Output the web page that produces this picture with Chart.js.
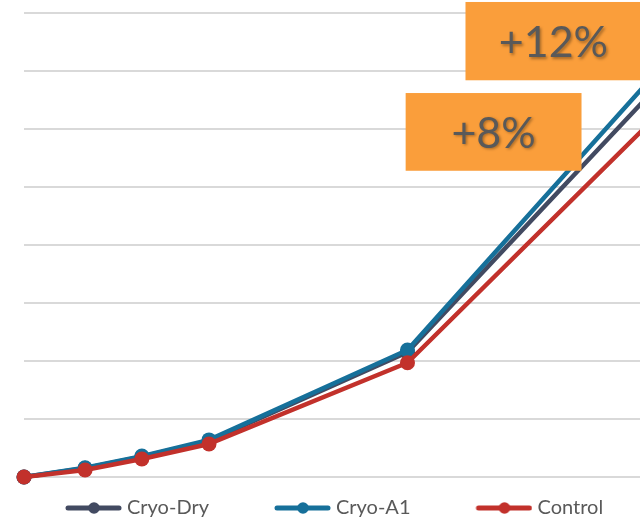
<!DOCTYPE html>
<html>
<head>
<meta charset="utf-8">
<script src="https://cdn.jsdelivr.net/npm/chart.js@4/dist/chart.umd.min.js"></script>
<style>
  html, body { margin: 0; padding: 0; overflow: hidden; background: #ffffff; }
  #wrap { position: relative; width: 680px; height: 528px; }
</style>
</head>
<body>
<div id="wrap"><canvas id="growth" width="680" height="528"></canvas></div>
<script>
// Series names, sampling times and measured values
const seriesNames = ['Cryo-Dry', 'Cryo-A1', 'Control'];
const timePoints  = [0, 1, 1.93, 3.03, 6.28, 11];
const cryoDry     = [0, 1.5, 3.5, 6.2, 21.5, 74.4];
const cryoA1      = [0, 1.6, 3.6, 6.4, 21.9, 77.3];
const control     = [0, 1.2, 3.1, 5.7, 19.7, 68.9];
const gainLabels  = ['+12%', '+8%'];

const seriesColors = ['#424a61', '#16709a', '#c2312b'];
const FONT = 'Lato, "Open Sans", sans-serif';

const toPoints = vals => timePoints.map((t, i) => ({ x: t, y: vals[i] }));

// Legend swatch: a thick line with a dot, right-aligned inside a wider transparent strip
function makeSwatch(color) {
  const c = document.createElement('canvas');
  c.width = 117; c.height = 14;
  const g = c.getContext('2d');
  g.strokeStyle = color; g.lineWidth = 5; g.lineCap = 'round';
  g.beginPath(); g.moveTo(c.width - 54, 7); g.lineTo(c.width - 3, 7); g.stroke();
  g.fillStyle = color;
  g.beginPath(); g.arc(c.width - 28, 7, 5.8, 0, Math.PI * 2); g.fill();
  return c;
}
const swatches = seriesColors.map(makeSwatch);

// Orange callout boxes placed in data units
const calloutPlugin = {
  id: 'callouts',
  afterDraw(chart, args, opts) {
    const { ctx, scales: { x, y } } = chart;
    ctx.save();
    opts.boxes.forEach(b => {
      const left = x.getPixelForValue(b.x0), right = x.getPixelForValue(b.x1);
      const top = y.getPixelForValue(b.y1), bottom = y.getPixelForValue(b.y0);
      ctx.fillStyle = '#fa9e3b';
      ctx.fillRect(left, top, right - left, bottom - top);
      ctx.save();
      ctx.shadowColor = 'rgba(0,0,0,0.35)';
      ctx.shadowBlur = 3; ctx.shadowOffsetX = 1.5; ctx.shadowOffsetY = 1.5;
      ctx.fillStyle = '#595959';
      ctx.font = '43px ' + FONT;
      ctx.textAlign = 'center'; ctx.textBaseline = 'middle';
      ctx.fillText(b.text, (left + right) / 2, (top + bottom) / 2 + 2);
      ctx.restore();
    });
    ctx.restore();
  }
};

const series = [cryoDry, cryoA1, control];

new Chart(document.getElementById('growth'), {
  type: 'line',
  data: {
    datasets: series.map((vals, i) => ({
      label: seriesNames[i],
      data: toPoints(vals),
      borderColor: seriesColors[i],
      backgroundColor: seriesColors[i],
      pointBackgroundColor: seriesColors[i],
      pointBorderWidth: 0,
      pointRadius: 7.5,
      borderWidth: 4.5,
      borderJoinStyle: 'round',
      tension: 0,
      fill: false,
      clip: 10,
      order: 3 - i
    }))
  },
  options: {
    responsive: false,
    animation: false,
    devicePixelRatio: 1,
    layout: { padding: { top: 13, right: 0, left: 0, bottom: 0 } },
    scales: {
      x: {
        type: 'linear',
        min: 0,
        max: 10.62,
        ticks: { display: false },
        grid: { display: false },
        border: { display: false },
        afterFit: s => { s.height = 11; }
      },
      y: {
        min: 0,
        max: 80,
        ticks: { display: false, stepSize: 10 },
        grid: { color: '#d9d9d9', lineWidth: 2, drawTicks: false },
        border: { display: false },
        afterFit: s => { s.width = 24; }
      }
    },
    plugins: {
      tooltip: { enabled: false },
      legend: {
        position: 'bottom',
        align: 'start',
        labels: {
          usePointStyle: true,
          pointStyleWidth: 107,
          padding: 10,
          color: '#595959',
          font: { family: FONT, size: 20 },
          sort: (a, b) => a.datasetIndex - b.datasetIndex,
          generateLabels(chart) {
            const items = Chart.defaults.plugins.legend.labels.generateLabels(chart);
            items.forEach(it => { it.pointStyle = swatches[it.datasetIndex]; });
            return items;
          }
        }
      },
      callouts: {
        boxes: [
          { text: gainLabels[0], x0: 7.23, x1: 10.11, y0: 68.4, y1: 81.9 },
          { text: gainLabels[1], x0: 6.25, x1: 9.13, y0: 52.8, y1: 66.2 }
        ]
      }
    }
  },
  plugins: [calloutPlugin]
});
</script>
</body>
</html>
